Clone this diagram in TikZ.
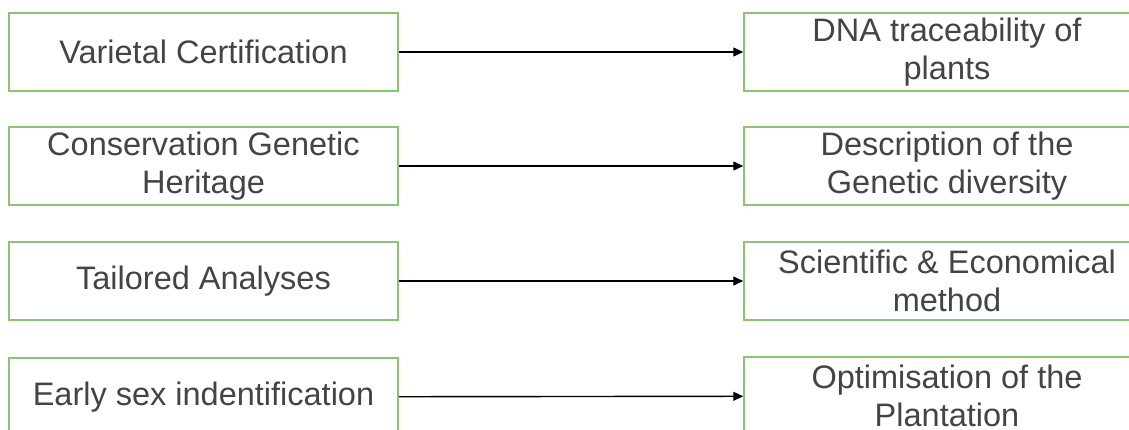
\documentclass[tikz,border=0pt]{standalone}
\usepackage{fontspec}
\setmainfont{Liberation Sans}
\usetikzlibrary{arrows.meta}
\definecolor{boxgreen}{HTML}{8CC474}
\definecolor{txtgray}{HTML}{444444}
\tikzset{
  gbox/.style={draw=boxgreen, line width=1.5pt, rectangle, minimum width=389pt, minimum height=78pt,
    inner sep=0pt, align=center, text=txtgray, font=\fontsize{32.5}{38}\selectfont},
  rbox/.style={gbox, minimum width=406pt},
  link/.style={draw=black, line width=1.4pt, -{Triangle[length=10pt,width=9pt]}}
}
\begin{document}
\begin{tikzpicture}[x=1pt,y=-1pt]
\useasboundingbox (0,0) rectangle (1129,430);
\clip (0,0) rectangle (1129,430);
\node[gbox] (l1) at (203.5,52) {Varietal Certification};
\node[rbox] (r1) at (947,52) {DNA traceability of\\plants};
\node[gbox] (l2) at (203.5,166) {Conservation Genetic\\Heritage};
\node[rbox] (r2) at (947,166) {Description of the\\Genetic diversity};
\node[gbox] (l3) at (203.5,281) {Tailored Analyses};
\node[rbox] (r3) at (947,281) {Scientific \& Economical\\method};
\node[gbox] (l4) at (203.5,397) {Early sex indentification};
\node[rbox] (r4) at (947,396) {Optimisation of the\\Plantation};
\draw[link] (l1) -- (r1);
\draw[link] (l2) -- (r2);
\draw[link] (l3) -- (r3);
\draw[link] (l4) -- (r4);
\end{tikzpicture}
\end{document}
